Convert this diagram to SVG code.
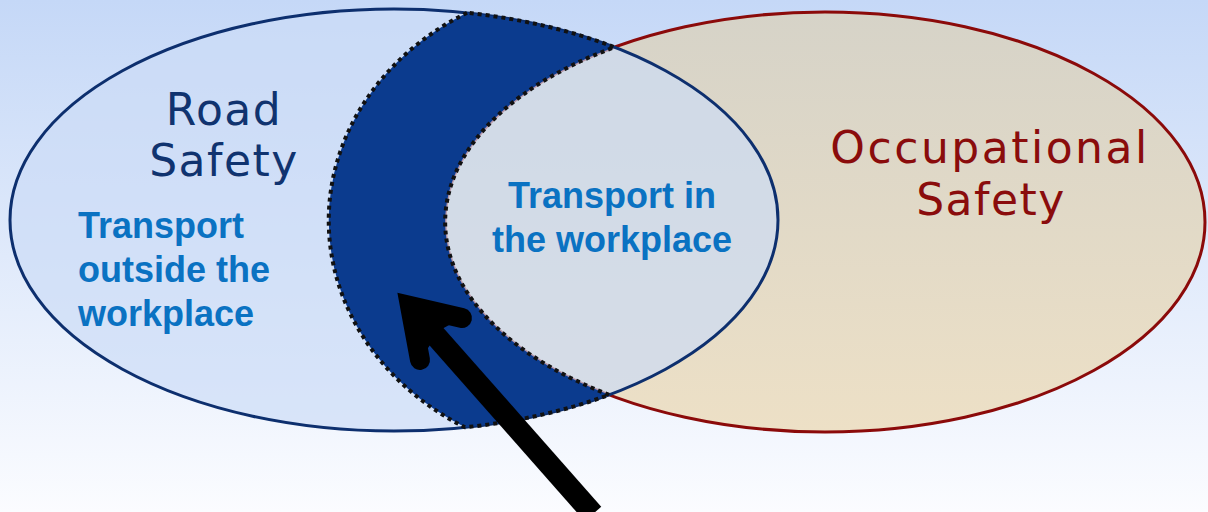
<svg xmlns="http://www.w3.org/2000/svg" width="1208" height="512" viewBox="0 0 1208 512">
  <defs>
    <linearGradient id="bg" x1="0" y1="0" x2="0" y2="1">
      <stop offset="0" stop-color="#c5d8f7"/>
      <stop offset="1" stop-color="#fbfcff"/>
    </linearGradient>
    <linearGradient id="beige" x1="0" y1="0" x2="0" y2="1">
      <stop offset="0" stop-color="#d6d3c8"/>
      <stop offset="1" stop-color="#ede0c6"/>
    </linearGradient>
    <style>
      .big { font-family: "DejaVu Sans", "Liberation Sans", sans-serif; font-size: 44px; letter-spacing: 1.5px; text-anchor: middle; }
      .road { fill: #10336f; }
      .occ { fill: #8a0c0c; }
      .bold { font-family: "Liberation Sans", Arial, sans-serif; font-weight: bold; font-size: 36px; fill: #0a72c2; }
    </style>
  </defs>
  <rect x="0" y="0" width="1208" height="512" fill="url(#bg)"/>

  <g id="occupational-safety">
    <ellipse cx="825" cy="222" rx="380" ry="210" fill="url(#beige)" stroke="#8b0a0a" stroke-width="3"/>
    <text class="big occ" x="990" y="163" style="letter-spacing:2.5px">Occupational</text>
    <text class="big occ" x="991" y="215">Safety</text>
  </g>

  <g id="road-safety">
    <ellipse cx="394" cy="220" rx="384" ry="211" fill="rgb(204,220,246)" fill-opacity="0.68" stroke="#0d2f6e" stroke-width="3"/>
    <text class="big road" x="224" y="125">Road</text>
    <text class="big road" x="224" y="176">Safety</text>
    <text class="bold" x="78" y="238">Transport</text>
    <text class="bold" x="78" y="282">outside the</text>
    <text class="bold" x="78" y="326">workplace</text>
  </g>

  <g id="transport-at-work">
    <path d="M467,12.8 A270,238 0 0 0 465,427.3 A384,211 0 0 0 609.3,394.8 A380,210 0 0 1 614.5,47.2 A384,211 0 0 0 467,12.8 Z" fill="#0b3b8e" stroke="#111111" stroke-width="4" stroke-dasharray="4 4"/>
  </g>

  <g id="overlap-label">
    <text class="bold" x="612" y="208" text-anchor="middle">Transport in</text>
    <text class="bold" x="612" y="252" text-anchor="middle">the workplace</text>
  </g>

  <g id="connectors">
    <line x1="593" y1="514" x2="412" y2="309" stroke="#000000" stroke-width="22"/>
    <polyline points="420,360 410,306 462,318" fill="none" stroke="#000000" stroke-width="20" stroke-linecap="round" stroke-linejoin="miter"/>
    <polygon points="410,306 420,360 440,330 462,318" fill="#000000"/>
  </g>
</svg>
